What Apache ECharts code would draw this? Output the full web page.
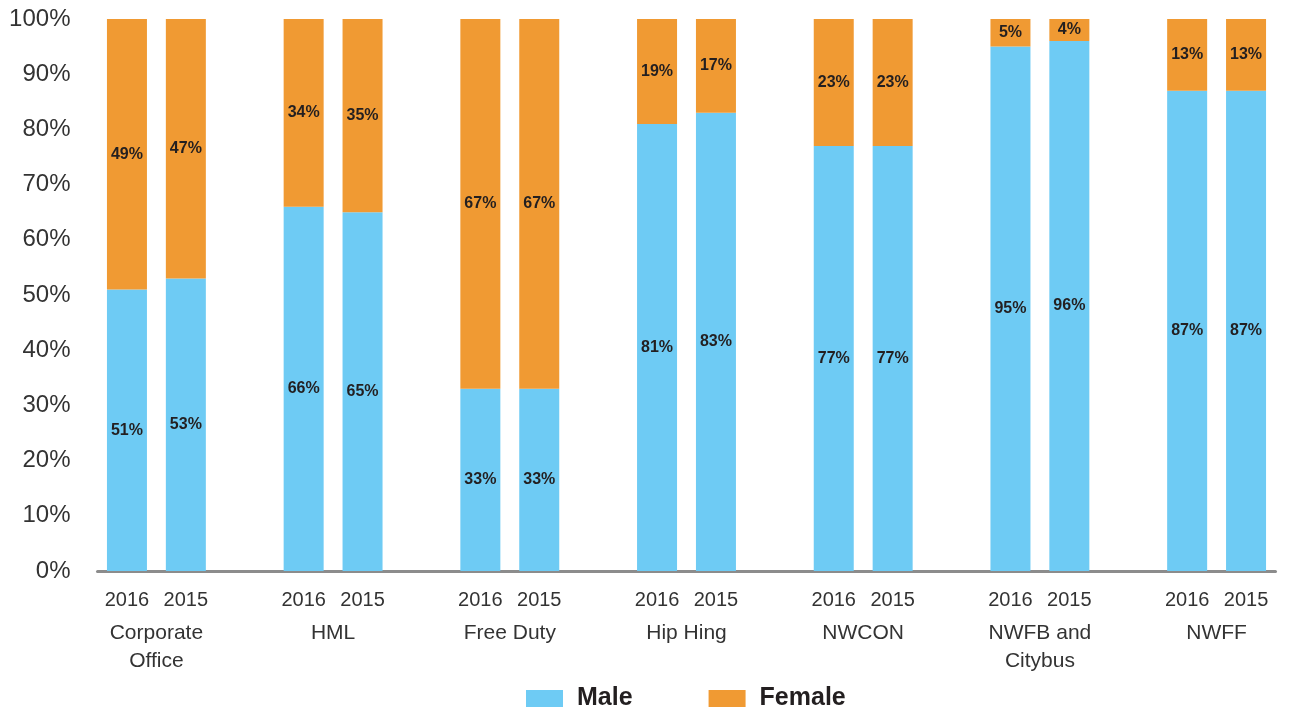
<!DOCTYPE html>
<html><head><meta charset="utf-8">
<script src="https://cdn.jsdelivr.net/npm/echarts@6/dist/echarts.min.js"></script>
<style>html,body{margin:0;padding:0;background:#fff}#c{width:1289px;height:712px}</style>
</head><body><div id="c"></div>
<script>
const groups = ['Corporate\nOffice','HML','Free Duty','Hip Hing','NWCON','NWFB and\nCitybus','NWFF'];
const years = ['2016','2015'];
const male2016 = [51,66,33,81,77,95,87];
const male2015 = [53,65,33,83,77,96,87];
const female2016 = [49,34,67,19,23,5,13];
const female2015 = [47,35,67,17,23,4,13];
const yTicks = [0,10,20,30,40,50,60,70,80,90,100];

// slot layout: 2016, 2015, gap, ...
const slotCats = [], maleSlots = [], femaleSlots = [], groupCats = [''];
groups.forEach((g,i)=>{
  slotCats.push(years[0], years[1]);
  maleSlots.push(male2016[i], male2015[i]);
  femaleSlots.push(female2016[i], female2015[i]);
  groupCats.push(g, '', '');
  if(i<groups.length-1){ slotCats.push(''); maleSlots.push('-'); femaleSlots.push('-'); }
});
groupCats.length = slotCats.length + 1;

const font = 'Liberation Sans, Arial, sans-serif';
const chart = echarts.init(document.getElementById('c'));
const lbl = {show:true, position:'inside', formatter:'{c}%', color:'#231f20', fontWeight:'bold', fontSize:16, fontFamily:font};
chart.setOption({
  animation:false,
  grid:{left:97.5, right:13.5, top:19, bottom:141},
  legend:{
    data:['Male','Female'], left:526, top:686, padding:0, itemWidth:37, itemHeight:17, itemGap:76,
    icon:'rect',
    textStyle:{fontSize:25, fontWeight:'bold', color:'#231f20', fontFamily:font, padding:[0,0,0,9]}
  },
  xAxis:[
    {type:'category', data:slotCats, axisTick:{show:false},
     axisLine:{lineStyle:{color:'#8c8c8c', width:3}},
     axisLabel:{interval:0, margin:19, fontSize:20, color:'#333', fontFamily:font}},
    {type:'category', data:groupCats, boundaryGap:false, position:'bottom',
     axisTick:{show:false}, axisLine:{show:false},
     axisLabel:{interval:0, margin:48, fontSize:21, lineHeight:28, color:'#333', fontFamily:font}}
  ],
  yAxis:{type:'value', min:0, max:100, interval:10, splitLine:{show:false},
    axisLine:{show:false}, axisTick:{show:false},
    axisLabel:{margin:27, fontSize:24, color:'#333', fontFamily:font,
      formatter:v=> yTicks.includes(v) ? v+'%' : ''}},
  series:[
    {name:'Male', type:'bar', stack:'s', barWidth:40, data:maleSlots,
     itemStyle:{color:'#6ECBF4'}, label:lbl},
    {name:'Female', type:'bar', stack:'s', barWidth:40, data:femaleSlots,
     itemStyle:{color:'#F09A33'}, label:lbl}
  ]
});
</script></body></html>
